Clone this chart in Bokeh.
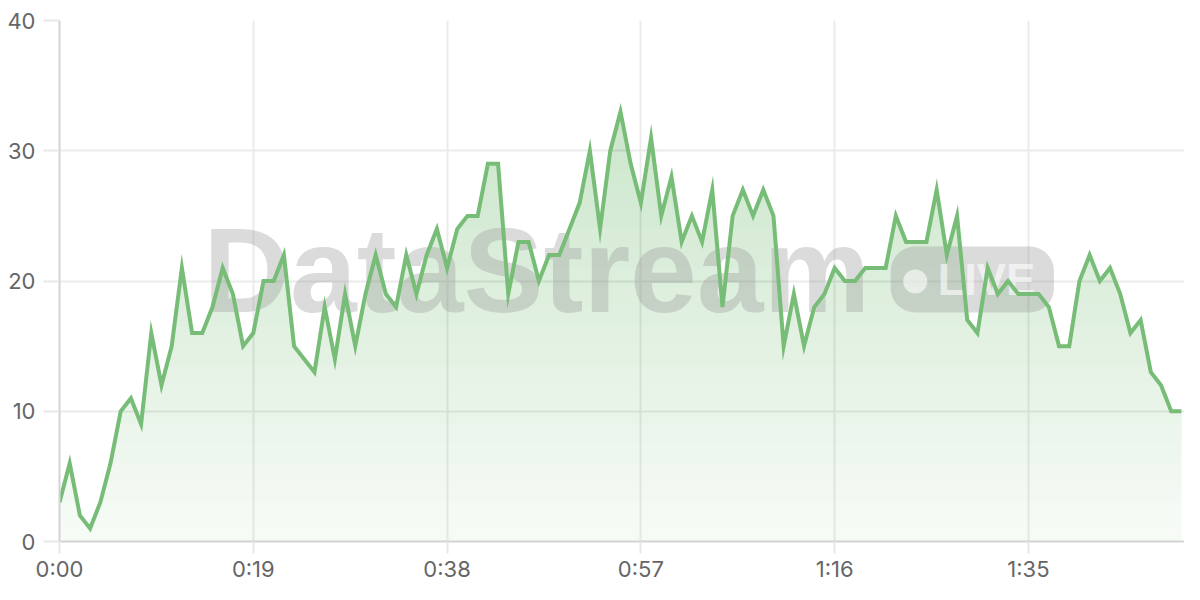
import numpy as np
from bokeh.plotting import figure
from bokeh.models import Range1d, FixedTicker
from bokeh.core.properties import value
from bokeh.embed import file_html
from bokeh.resources import INLINE

# ---- data ----
values = [3, 6, 2, 1, 3, 6, 10, 11, 9, 16, 12,
          15, 21, 16, 16, 18, 21, 19, 15, 16, 20,
          20, 22, 15, 14, 13, 18, 14, 19, 15, 19,
          22, 19, 18, 22, 19, 22, 24, 21, 24, 25,
          25, 29, 29, 19, 23, 23, 20, 22, 22, 24,
          26, 30, 24, 30, 33, 29, 26, 31, 25, 28,
          23, 25, 23, 27, 18, 25, 27, 25, 27, 25,
          15, 19, 15, 18, 19, 21, 20, 20, 21, 21,
          21, 25, 23, 23, 23, 27, 22, 25, 17, 16,
          21, 19, 20, 19, 19, 19, 18, 15, 15, 20,
          22, 20, 21, 19, 16, 17, 13, 12, 10, 10]
seconds = list(range(len(values)))
x_ticks = [0, 19, 38, 57, 76, 95]
x_tick_labels = ["0:00", "0:19", "0:38", "0:57", "1:16", "1:35"]
y_ticks = [0, 10, 20, 30, 40]

GREEN = "#77bd77"
LABEL_FONT = "Inter"

p = figure(width=1184, height=584, output_backend="svg", toolbar_location=None,
           x_range=Range1d(0, 110.3), y_range=Range1d(0, 40),
           min_border_left=59, min_border_right=0, min_border_top=20,
           min_border_bottom=41)
p.outline_line_color = None
p.background_fill_color = "white"
p.border_fill_color = "white"

for ax in (p.xaxis[0], p.yaxis[0]):
    ax.axis_line_color = "#d3d3d3"
    ax.axis_line_width = 2
    ax.major_tick_line_color = "#e8e8e8"
    ax.major_tick_line_width = 2
    ax.major_tick_in = 0
    ax.minor_tick_line_color = None
    ax.major_label_text_font = LABEL_FONT
    ax.major_label_text_font_size = "22px"
    ax.major_label_text_color = "#666666"

p.xaxis.major_tick_out = 12
p.yaxis.major_tick_out = 16
p.xaxis.ticker = FixedTicker(ticks=x_ticks)
p.xaxis.major_label_overrides = {t: l for t, l in zip(x_ticks, x_tick_labels)}
p.yaxis.ticker = FixedTicker(ticks=y_ticks)
p.xaxis.major_label_standoff = 2
p.yaxis.major_label_standoff = 8
p.grid.grid_line_color = "#ebebeb"
p.grid.grid_line_width = 2

# ---- gradient fill (stacked translucent layers) ----
vals = np.array(values, dtype=float)
p.varea(x=seconds, y1=0, y2=vals, fill_color=GREEN, fill_alpha=0.05)
for t in np.arange(0, 34, 1.5):
    p.varea(x=seconds, y1=t, y2=np.maximum(vals, t), fill_color=GREEN, fill_alpha=0.011)

# ---- watermark ----
WM = "#9a9a9a"
p.text(x=[14.1], y=[20.84], text=["DataStream"], text_font=value("Liberation Sans"),
       text_font_style="bold", text_font_size="120px", text_color=WM, text_alpha=0.36,
       text_baseline="middle", text_align="left")
p.quad(left=[81.5], right=[97.5], bottom=[17.59], top=[22.64], border_radius=24,
       fill_color=WM, fill_alpha=0.36, line_color=None)
p.scatter(x=[83.9], y=[19.96], size=24, marker="circle", fill_color="white",
          fill_alpha=0.6, line_color=None)
p.text(x=[86.1], y=[20.1], text=["LIVE"], text_font=value("Liberation Sans"),
       text_font_style="bold", text_font_size="44px", text_color="white", text_alpha=0.6,
       text_baseline="middle", text_align="left")

# ---- line ----
p.line(x=seconds, y=values, line_color=GREEN, line_width=4, line_join="miter")

open("out.html", "w").write(file_html(p, INLINE))
